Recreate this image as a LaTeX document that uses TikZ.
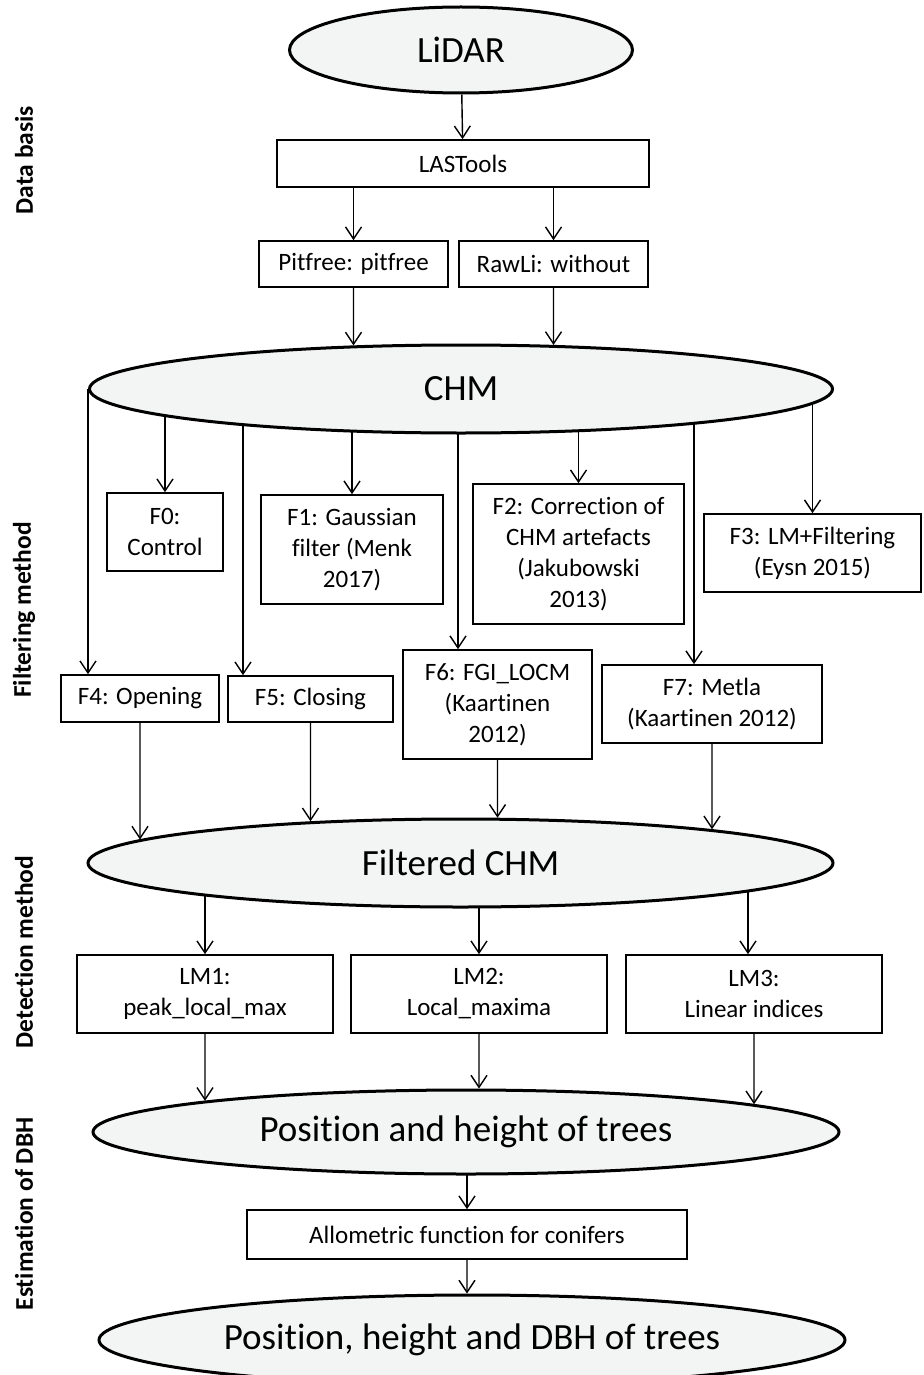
\documentclass[tikz,border=0pt]{standalone}
\usepackage{fontspec}
\setmainfont{Carlito}[Ligatures=NoCommon]
\usetikzlibrary{shapes.geometric, arrows.meta, intersections, backgrounds}
\definecolor{ellgray}{RGB}{243,245,244}
\tikzset{
  blob/.style={ellipse, draw, line width=3pt, fill=ellgray, inner sep=0pt, font=\fontsize{37}{44}\selectfont},
  proc/.style={rectangle, draw, line width=1.7pt, inner sep=0pt, align=center, font=\fontsize{25}{31}\selectfont},
  arr/.style={line width=1.4pt, -{Straight Barb[length=12pt,width=16pt]}},
  side/.style={rotate=90, font=\bfseries\fontsize{25.5}{30}\selectfont}
}

\begin{document}
\begin{tikzpicture}[x=1pt, y=-1pt]
    \useasboundingbox (0,0) rectangle (923,1375);

    % side labels
    \node[side] (sdata) at (24,160) {Data basis};
    \node[side] (sfilt) at (24,610) {Filtering method};
    \node[side] (sdet) at (24,952) {Detection method};
    \node[side] (sest) at (24,1214) {Estimation of DBH};

    % ellipses
    \node[blob, minimum width=343pt, minimum height=86pt] (lidar) at (461,50) {LiDAR};
    \node[blob, minimum width=743pt, minimum height=88pt] (chm) at (461,389) {CHM};
    \node[blob, minimum width=745pt, minimum height=88pt] (fchm) at (460.5,863) {Filtered CHM};
    \node[blob, minimum width=746pt, minimum height=84pt] (pos) at (466,1132) {Position and height of trees};
    \node[blob, minimum width=746pt, minimum height=90pt] (dbh) at (472,1340) {Position, height and DBH of trees};

    % data basis
    \node[proc, minimum width=372pt, minimum height=47pt] (lastools) at (463,163.5) {LASTools};
    \node[proc, minimum width=189pt, minimum height=46pt] (pitfree) at (353.5,264) {Pitfree: pitfree};
    \node[proc, minimum width=189pt, minimum height=46pt] (rawli) at (553.5,264) {RawLi: without};

    % filters
    \node[proc, minimum width=116pt, minimum height=78pt] (f0) at (165,532) {F0:\\Control};
    \node[proc, minimum width=182pt, minimum height=109pt] (f1) at (352,549.5) {F1: Gaussian\\filter (Menk\\2017)};
    \node[proc, minimum width=211pt, minimum height=140pt] (f2) at (578.5,554) {F2: Correction of\\CHM artefacts\\(Jakubowski\\2013)};
    \node[proc, minimum width=217pt, minimum height=78pt] (f3) at (812.5,553) {F3: LM+Filtering\\(Eysn 2015)};
    \node[proc, minimum width=158pt, minimum height=47pt] (f4) at (140,698.5) {F4: Opening};
    \node[proc, minimum width=165pt, minimum height=46pt] (f5) at (310.5,699) {F5: Closing};
    \node[proc, minimum width=189pt, minimum height=109pt] (f6) at (497.5,704.5) {F6: FGI\_LOCM\\(Kaartinen\\2012)};
    \node[proc, minimum width=220pt, minimum height=78pt] (f7) at (712,704) {F7: Metla\\(Kaartinen 2012)};

    % detection
    \node[proc, minimum width=256pt, minimum height=78pt] (lm1) at (205,994) {LM1:\\peak\_local\_max};
    \node[proc, minimum width=256pt, minimum height=78pt] (lm2) at (479,994) {LM2:\\Local\_maxima};
    \node[proc, minimum width=256pt, minimum height=78pt] (lm3) at (754,994) {LM3:\\Linear indices};

    % DBH
    \node[proc, minimum width=440pt, minimum height=49pt] (allo) at (467,1234.5) {Allometric function for conifers};

    \coordinate (x5) at (243,0);
    \coordinate (x6) at (458,0);
    \coordinate (x7) at (694,0);
    \coordinate (xl3) at (748,0);

    % outlines of the ellipses for the arrow ends
    \path[name path=chmp] (chm.center) ellipse [x radius=373pt, y radius=45.5pt];
    \path[name path=fchmp] (fchm.center) ellipse [x radius=374pt, y radius=45.5pt];
    \path[name path=posp] (pos.center) ellipse [x radius=374.5pt, y radius=43.5pt];
    \path[name path=dbhp] (dbh.center) ellipse [x radius=374.5pt, y radius=46.5pt];

    \path[arr]
    (lidar) edge (lastools)
    (pitfree.north |- lastools.south) edge (pitfree)
    (rawli.north |- lastools.south) edge (rawli);

    % arrows leaving an ellipse start under it
    \begin{scope}[on background layer]
        \path[arr]
        (f0.north |- chm) edge (f0.north)
        (f1.north |- chm) edge (f1.north)
        (f2.north |- chm) edge (f2.north)
        (f3.north |- chm) edge (f3.north)
        (chm.west) edge (chm.west |- f4.north)
        (x5 |- chm) edge (x5 |- f5.north)
        (x6 |- chm) edge (x6 |- f6.north)
        (x7 |- chm) edge (x7 |- f7.north)
        (lm1.north |- fchm) edge (lm1.north)
        (lm2.north |- fchm) edge (lm2.north)
        (xl3 |- fchm) edge (xl3 |- lm3.north)
        (allo.north |- pos) edge (allo.north);
    \end{scope}

    % arrows entering an ellipse stop on its outline
    \foreach \b/\e in {pitfree/chmp, rawli/chmp, f4/fchmp, f5/fchmp, f6/fchmp, f7/fchmp,
                       lm1/posp, lm2/posp, lm3/posp, allo/dbhp} {
        \path[name path=drop] (\b.south) -- ++(0,120);
        \draw[arr, name intersections={of=drop and \e, sort by=drop}] (\b.south) -- (intersection-1);
    }
\end{tikzpicture}
\end{document}
